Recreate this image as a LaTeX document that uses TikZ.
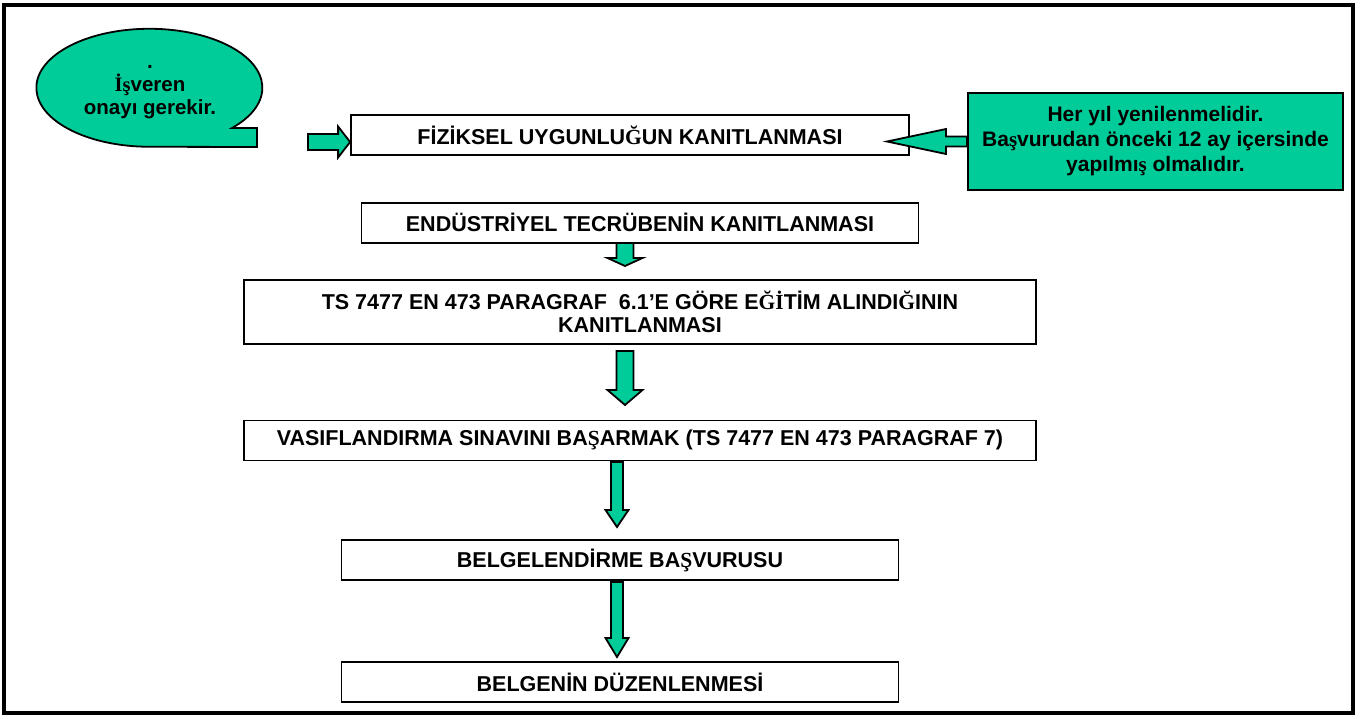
\documentclass[tikz,border=0pt]{standalone}
\usepackage{fontspec}
\setmainfont{Liberation Sans}
\newfontfamily\serifglyph{Liberation Serif}
\usepackage{tikz}
\usetikzlibrary{positioning, calc}
\definecolor{mint}{RGB}{0,204,153}

% letters that the slide set in a serif face
\newcommand{\trg}[1]{{\serifglyph #1}}

% block arrows: tail, tip, shaft half width, head half width, head length
\newcommand{\vblock}[5]{%
  \filldraw[garrow] let \p1=(#1), \p2=(#2) in
    ({\x1-#3pt},\y1) -- ({\x1+#3pt},\y1) -- ({\x1+#3pt},{\y2+#5pt}) -- ({\x1+#4pt},{\y2+#5pt})
    -- (\x1,\y2) -- ({\x1-#4pt},{\y2+#5pt}) -- ({\x1-#3pt},{\y2+#5pt}) -- cycle;}
\newcommand{\hblock}[5]{%
  \filldraw[garrow] let \p1=(#1), \p2=(#2), \n1={sign(\x2-\x1)} in
    (\x1,{\y1-#3pt}) -- ({\x2-\n1*#5pt},{\y1-#3pt}) -- ({\x2-\n1*#5pt},{\y1-#4pt})
    -- (\x2,\y1) -- ({\x2-\n1*#5pt},{\y1+#4pt}) -- ({\x2-\n1*#5pt},{\y1+#3pt}) -- (\x1,{\y1+#3pt}) -- cycle;}

\begin{document}
\begin{tikzpicture}[x=1pt, y=-1pt,
    box/.style={draw, line width=1.8pt, fill=white, inner sep=0pt, minimum height=40pt,
      align=center, font=\fontsize{21.5}{23.5}\selectfont\bfseries},
    garrow/.style={draw, fill=mint, line width=1.8pt, line join=miter}]
  \useasboundingbox (0,0) rectangle (1365,718);
  \draw[line width=4pt] (4,4.5) rectangle (1353,713);

  % speech bubble
  \filldraw[garrow] (232,128) arc[start angle=43, end angle=-270, x radius=113, y radius=59]
    -- (257,147) -- (257,128) -- cycle;
  \node[align=center, font=\fontsize{20.5}{23}\selectfont\bfseries] (isveren) at (150,92)
       {.\\\trg{İş}veren\\onayı gerekir.};

  \node[box, minimum width=558pt] (fizik) at (630,135) {FİZİKSEL UYGUNLU\trg{Ğ}UN KANITLANMASI};

  \node[box, fill=mint, minimum width=375pt, minimum height=97pt, font=\fontsize{21}{25}\selectfont\bfseries] (note) at (1155.5,141.5)
       {Her yıl yenilenmelidir.\\Ba\trg{ş}vurudan önceki 12 ay içersinde\\yapılmı\trg{ş} olmalıdır.};

  \node[box, minimum width=557pt, below=46pt of fizik, xshift=10pt] (endustri) {ENDÜSTRİYEL TECRÜBENİN KANITLANMASI};

  \node[box, minimum width=792pt, minimum height=64pt, below=35pt of endustri] (egitim)
       {TS 7477 EN 473 PARAGRAF\ \ 6.1’E GÖRE E\trg{Ğİ}TİM ALINDI\trg{Ğ}ININ\\KANITLANMASI};

  \node[box, minimum width=792pt, below=75pt of egitim] (sinav)
       {VASIFLANDIRMA SINAVINI BA\trg{Ş}ARMAK (TS 7477 EN 473 PARAGRAF 7)};

  \node[box, minimum width=557pt, below=78pt of sinav, xshift=-20pt] (basvuru) {BELGELENDİRME BA\trg{Ş}VURUSU};

  \node[box, minimum width=557pt, below=80pt of basvuru] (belge) {BELGENİN DÜZENLENMESİ};

  % arrows
  \coordinate (a0s) at (308,142);   \coordinate (a0e) at (fizik.west |- a0s);
  \coordinate (a5s) at (note.west |- 0,141.5); \coordinate (a5e) at (887,141.5);
  \coordinate (a1s) at (625,243);   \coordinate (a1e) at (625,266);
  \coordinate (a2s) at (625,351);   \coordinate (a2e) at (625,405);
  \coordinate (a3s) at (617,462);   \coordinate (a3e) at (617,527);
  \coordinate (a4s) at (617,582);   \coordinate (a4e) at (617,657);

  \hblock{a0s}{a0e}{8}{15.5}{12}
  \hblock{a5s}{a5e}{5}{12.5}{59}
  \vblock{a1s}{a1e}{8.5}{17.5}{8}
  \vblock{a2s}{a2e}{8.5}{17.5}{15}
  \vblock{a3s}{a3e}{6}{11.5}{17}
  \vblock{a4s}{a4e}{6}{11.5}{19}
\end{tikzpicture}
\end{document}
